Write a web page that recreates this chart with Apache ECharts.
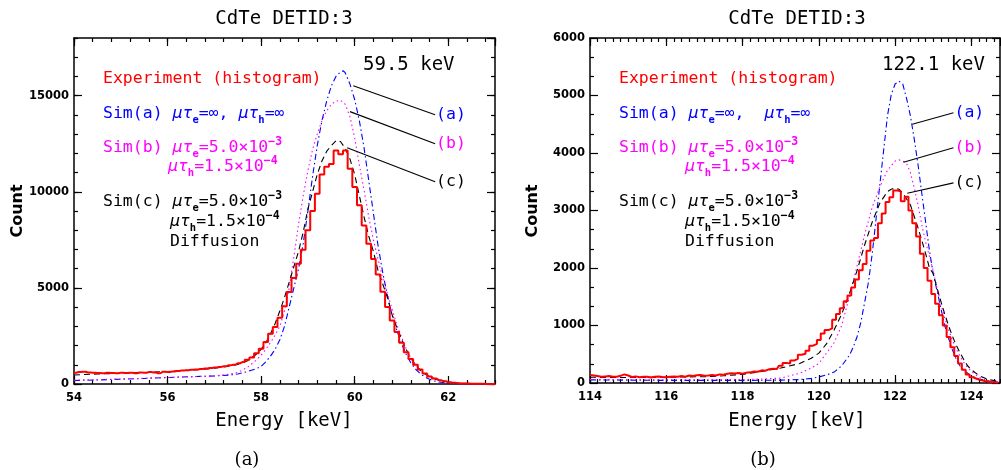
<!DOCTYPE html>
<html>
<head>
<meta charset="utf-8">
<script src="https://cdn.jsdelivr.net/npm/echarts@6/dist/echarts.min.js"></script>
<style>
  html, body { margin: 0; padding: 0; background: #ffffff; }
  #chart { width: 1001px; height: 470px; }
</style>
</head>
<body>
<div id="chart"></div>
<script>
// ---------------- data ----------------
// 59.5 keV line: measured histogram, 0.1 keV bins starting at 54.0 keV
const amStart = 54.0;
const amBin = 0.1;
const amCounts = [
  590, 620, 640, 600, 580, 570, 560, 580, 570, 560,
  580, 570, 590, 560, 600, 580, 620, 600, 560, 640,
  630, 650, 680, 700, 720, 740, 760, 780, 810, 830,
  860, 890, 920, 970, 1000, 1080, 1140, 1260, 1380, 1600,
  1830, 2180, 2610, 2960, 3450, 4040, 4780, 5510, 6260, 6990,
  8000, 9000, 9900, 10900, 11300, 11450, 12150, 11950, 12150, 11200,
  10250, 9300, 8250, 7300, 6500, 5700, 4800, 4000, 3300, 2700,
  2150, 1650, 1300, 1000, 750, 540, 390, 280, 200, 140,
  95, 65, 45, 30, 20, 14, 10, 7, 5, 4,
  3
];
// 59.5 keV simulations [energy, count]
const amSimA = [
  [54.0,180],[54.5,210],[55.0,250],[55.5,290],[56.0,340],[56.5,380],[57.0,420],[57.3,460],
  [57.5,520],[57.7,640],[57.9,800],[58.0,920],[58.1,1150],[58.2,1450],[58.3,1800],[58.4,2300],
  [58.5,3000],[58.6,4000],[58.7,5000],[58.8,6000],[58.9,7300],[59.0,9000],[59.1,10800],
  [59.2,12400],[59.3,13700],[59.4,14700],[59.5,15500],[59.6,16000],[59.7,16250],[59.76,16290],
  [59.8,16180],[59.9,15600],[60.0,14800],[60.1,13700],[60.2,12300],[60.3,10600],[60.4,8900],
  [60.5,7200],[60.6,5800],[60.7,4600],[60.8,3600],[60.9,2800],[61.0,2100],[61.1,1550],
  [61.2,1100],[61.3,780],[61.4,540],[61.5,370],[61.6,250],[61.7,160],[61.8,100],[62.0,45],
  [62.2,18],[62.5,5],[63.0,0]
];
const amSimB = [
  [54.0,200],[55.0,260],[56.0,330],[57.0,420],[57.3,500],[57.5,600],[57.7,850],[57.9,1250],
  [58.0,1500],[58.1,1800],[58.2,2150],[58.3,2550],[58.4,3000],[58.5,3800],[58.6,5000],
  [58.7,6600],[58.8,8300],[58.9,9800],[59.0,11100],[59.1,12200],[59.2,13000],[59.3,13700],
  [59.4,14200],[59.5,14550],[59.6,14720],[59.7,14760],[59.8,14550],[59.9,13900],[60.0,12800],
  [60.1,11400],[60.2,10100],[60.3,8700],[60.4,7500],[60.5,6500],[60.6,5500],[60.7,4700],
  [60.8,3900],[60.9,3100],[61.0,2450],[61.1,1850],[61.2,1350],[61.3,1000],[61.4,720],
  [61.5,500],[61.6,360],[61.7,250],[61.8,170],[62.0,70],[62.3,20],[62.6,5],[63.0,0]
];
const amSimC = [
  [54.0,470],[54.5,520],[55.0,560],[55.5,600],[56.0,650],[56.5,720],[57.0,820],[57.3,920],
  [57.5,1020],[57.7,1200],[57.9,1550],[58.0,1800],[58.1,2150],[58.2,2600],[58.3,3150],
  [58.4,3800],[58.5,4500],[58.6,5300],[58.7,6100],[58.8,6900],[58.9,7900],[59.0,9100],
  [59.1,10000],[59.2,10900],[59.3,11600],[59.4,12100],[59.5,12400],[59.6,12650],[59.65,12680],
  [59.7,12600],[59.8,12250],[59.9,11700],[60.0,10900],[60.1,9800],[60.2,8700],[60.3,7700],
  [60.4,6900],[60.5,5900],[60.6,5200],[60.7,4500],[60.8,3600],[60.9,2950],[61.0,2350],
  [61.1,1800],[61.2,1350],[61.3,1000],[61.4,730],[61.5,530],[61.6,390],[61.7,280],[61.8,200],
  [62.0,100],[62.3,30],[62.6,10],[63.0,0]
];

// 122.1 keV line: measured histogram, 0.1 keV bins starting at 114.0 keV
const coStart = 114.0;
const coBin = 0.1;
const coCounts = [
  140, 130, 120, 110, 115, 120, 110, 110, 125, 150,
  130, 105, 115, 100, 110, 110, 95, 110, 115, 105,
  100, 110, 115, 110, 120, 110, 130, 120, 135, 140,
  125, 130, 140, 130, 150, 145, 160, 170, 165, 175,
  160, 180, 185, 200, 195, 220, 215, 240, 250, 245,
  300, 350, 340, 390, 420, 490, 510, 560, 650, 680,
  750, 860, 920, 950, 1100, 1200, 1300, 1420, 1520, 1660,
  1800, 1960, 2070, 2300, 2480, 2520, 2780, 2950, 3150, 3230,
  3350, 3330, 3160, 3240, 3000, 2780, 2550, 2250, 2000, 1780,
  1550, 1380, 1180, 1000, 800, 620, 470, 340, 230, 150,
  100, 70, 50, 35, 25, 15, 10, 5
];
// 122.1 keV simulations [energy, count]
const coSimA = [
  [114.0,55],[115.0,50],[116.0,45],[117.0,45],[118.0,45],[119.0,50],[119.5,60],[119.8,80],
  [120.0,105],[120.2,140],[120.4,190],[120.6,300],[120.8,480],[120.9,620],[121.0,800],
  [121.1,1050],[121.2,1400],[121.3,1750],[121.4,2250],[121.5,2850],[121.6,3450],[121.7,4050],
  [121.8,4650],[121.9,5020],[122.0,5200],[122.1,5250],[122.2,5200],[122.3,4950],[122.4,4650],
  [122.5,4250],[122.6,3800],[122.7,3300],[122.8,2800],[122.9,2300],[123.0,1900],[123.1,1600],
  [123.2,1300],[123.3,1000],[123.4,780],[123.5,580],[123.6,420],[123.7,300],[123.8,220],
  [124.0,120],[124.2,70],[124.4,40],[124.75,20]
];
const coSimB = [
  [114.0,60],[116.0,55],[118.0,60],[118.5,70],[119.0,85],[119.5,170],[119.8,260],[120.0,340],
  [120.2,520],[120.4,700],[120.6,1000],[120.8,1500],[121.0,2030],[121.2,2580],[121.4,3060],
  [121.6,3410],[121.8,3700],[122.0,3860],[122.1,3880],[122.2,3860],[122.3,3820],[122.4,3660],
  [122.5,3400],[122.6,3100],[122.7,2750],[122.8,2450],[122.9,2200],[123.0,1950],[123.1,1650],
  [123.2,1380],[123.3,1130],[123.4,930],[123.5,750],[123.6,600],[123.7,470],[123.8,360],
  [123.9,270],[124.0,200],[124.2,100],[124.4,45],[124.75,15]
];
const coSimC = [
  [114.0,100],[115.0,95],[116.0,100],[117.0,110],[117.5,125],[118.0,150],[118.5,200],[119.0,260],
  [119.5,340],[119.8,430],[120.0,520],[120.2,680],[120.4,920],[120.6,1200],[120.8,1550],
  [121.0,1950],[121.2,2400],[121.4,2800],[121.6,3130],[121.8,3330],[121.9,3370],[122.0,3390],
  [122.1,3370],[122.2,3300],[122.3,3200],[122.4,3100],[122.5,2900],[122.6,2700],[122.7,2480],
  [122.8,2250],[122.9,2000],[123.0,1900],[123.1,1650],[123.2,1420],[123.3,1200],[123.4,1000],
  [123.5,820],[123.6,660],[123.7,530],[123.8,410],[123.9,300],[124.0,230],[124.2,130],
  [124.4,70],[124.75,20]
];

// axis ranges
const amRange = [54, 63];
const coRange = [114, 124.75];
const amCountMax = 18000;
const coCountMax = 6000;

// ---------------- helpers ----------------
function binned(start, width, counts) {
  return counts.map((c, i) => [+(start + i * width).toFixed(3), c]);
}

const MONO = 'DejaVu Sans Mono';
const RED = '#ff0000', BLUE = '#0000ff', MAG = '#ff00ff', BLK = '#000000';
const plainNumber = v => String(Math.round(v * 1000) / 1000);

function tickLabel(show, showMax) {
  return { show: show, showMaxLabel: showMax, showMinLabel: true, formatter: plainNumber,
    fontFamily: 'DejaVu Sans', fontWeight: 'bold', fontSize: 11.5, color: BLK };
}

function xAx(grid, range, interval, opts) {
  const major = opts.major;
  const lbl = tickLabel(major && opts.position === 'bottom', false);
  lbl.margin = 8;
  return {
    type: 'value', gridIndex: grid, min: range[0], max: range[1], interval: interval,
    position: opts.position, splitLine: { show: false },
    axisLine: { show: major, onZero: false, lineStyle: { color: BLK, width: 1.5 } },
    axisTick: { show: true, inside: true, length: major ? 8 : 4, lineStyle: { color: BLK, width: 1.2 } },
    axisLabel: lbl
  };
}
function yAx(grid, max, interval, opts) {
  const major = opts.major;
  const lbl = tickLabel(major && opts.position === 'left', !!opts.showMax);
  lbl.margin = 5;
  const o = {
    type: 'value', gridIndex: grid, min: 0, max: max, interval: interval,
    position: opts.position, splitLine: { show: false },
    axisLine: { show: major, onZero: false, lineStyle: { color: BLK, width: 1.5 } },
    axisTick: { show: true, inside: true, length: major ? 8 : 4, lineStyle: { color: BLK, width: 1.2 } },
    axisLabel: lbl
  };
  if (opts.minorSplit) {
    o.minorTick = { show: true, splitNumber: opts.minorSplit, length: 4, lineStyle: { color: BLK, width: 1.2 } };
  }
  return o;
}

const xAxes = [
  xAx(0, amRange, 2, { position: 'bottom', major: true }),   // 0
  xAx(0, amRange, 0.4, { position: 'bottom', major: false }),// 1
  xAx(0, amRange, 2, { position: 'top', major: true }),      // 2
  xAx(0, amRange, 0.4, { position: 'top', major: false }),   // 3
  xAx(1, coRange, 2, { position: 'bottom', major: true }),   // 4
  xAx(1, coRange, 0.2, { position: 'bottom', major: false }),// 5
  xAx(1, coRange, 2, { position: 'top', major: true }),      // 6
  xAx(1, coRange, 0.2, { position: 'top', major: false })    // 7
];
const yAxes = [
  yAx(0, amCountMax, 5000, { position: 'left', major: true }),   // 0
  yAx(0, amCountMax, 1000, { position: 'left', major: false }),  // 1
  yAx(0, amCountMax, 5000, { position: 'right', major: true }),  // 2
  yAx(0, amCountMax, 1000, { position: 'right', major: false }), // 3
  yAx(1, coCountMax, 1000, { position: 'left', major: true, minorSplit: 3, showMax: true }),  // 4
  yAx(1, coCountMax, 1000, { position: 'right', major: true, minorSplit: 3 })                 // 5
];

function histSeries(xi, yi, data) {
  return { type: 'line', xAxisIndex: xi, yAxisIndex: yi, data: data, step: 'middle',
    showSymbol: false, symbol: 'none', lineStyle: { color: RED, width: 2 }, z: 5, silent: true };
}
function simSeries(xi, yi, data, color, dash, z) {
  return { type: 'line', xAxisIndex: xi, yAxisIndex: yi, data: data, smooth: false,
    showSymbol: false, symbol: 'none', lineStyle: { color: color, width: 1.1, type: dash }, z: z, silent: true };
}

const DASHDOT = [6, 3, 1.5, 3];
const DOTTED = [1.5, 3];
const DASHED = [6, 4];

const series = [
  simSeries(0, 0, amSimA, BLUE, DASHDOT, 3),
  simSeries(0, 0, amSimB, MAG, DOTTED, 3),
  simSeries(0, 0, amSimC, BLK, DASHED, 4),
  histSeries(0, 0, binned(amStart, amBin, amCounts)),
  simSeries(4, 4, coSimA, BLUE, DASHDOT, 3),
  simSeries(4, 4, coSimB, MAG, DOTTED, 3),
  simSeries(4, 4, coSimC, BLK, DASHED, 4),
  histSeries(4, 4, binned(coStart, coBin, coCounts))
];

// ---------------- text blocks ----------------
const TXT = 16.5;
const richStyles = {
  g:  { fontFamily: MONO, fontSize: TXT, fontStyle: 'italic', lineHeight: 24 },
  sb: { fontFamily: MONO, fontSize: 10.5, fontWeight: 'bold', lineHeight: 13, verticalAlign: 'bottom' },
  sp: { fontFamily: MONO, fontSize: 11.5, fontWeight: 'bold', lineHeight: 13, verticalAlign: 'top' }
};
function richText(x, y, text, color) {
  return {
    type: 'text', x: x, y: y, silent: true,
    style: { text: text, fill: color, fontFamily: MONO, fontSize: TXT, lineHeight: 24,
      align: 'left', verticalAlign: 'middle', rich: richStyles }
  };
}
function plainText(x, y, text, opts) {
  return {
    type: 'text', x: x, y: y, rotation: opts.rotation || 0, silent: true,
    style: { text: text, fill: opts.color || BLK, fontFamily: opts.family || MONO,
      fontSize: opts.size, fontWeight: opts.weight || 'normal',
      align: opts.align || 'center', verticalAlign: 'middle' }
  };
}

function panelTexts(o) {
  const g = [];
  g.push(plainText(o.cx, 19, 'CdTe DETID:3', { size: 19 }));
  g.push(plainText(o.cx, 421, 'Energy [keV]', { size: 19 }));
  g.push(plainText(o.countX, 211, 'Count', { size: 16, family: 'DejaVu Sans', weight: 'bold', rotation: Math.PI / 2 }));
  g.push(plainText(o.capX, 460, o.caption, { size: 18, family: 'DejaVu Serif' }));
  g.push(plainText(o.lineX, 65, o.lineLabel, { size: 19, align: 'left' }));
  g.push(richText(o.lx, 79, 'Experiment (histogram)', RED));
  g.push(richText(o.lx, 114, 'Sim(a) {g|μτ}{sb|e}=∞,' + o.gap + '{g|μτ}{sb|h}=∞', BLUE));
  g.push(richText(o.lx, 148, 'Sim(b) {g|μτ}{sb|e}=5.0×10{sp|−3}', MAG));
  g.push(richText(o.l2b, 167, '{g|μτ}{sb|h}=1.5×10{sp|−4}', MAG));
  g.push(richText(o.lx, 202, 'Sim(c) {g|μτ}{sb|e}=5.0×10{sp|−3}', BLK));
  g.push(richText(o.l2c, 222, '{g|μτ}{sb|h}=1.5×10{sp|−4}', BLK));
  g.push(richText(o.l2c, 242, 'Diffusion', BLK));
  return g;
}

const staticGraphics = [].concat(
  panelTexts({ cx: 284, countX: 18, capX: 247, caption: '(a)', lineX: 363, lineLabel: '59.5 keV',
    lx: 103, gap: ' ', l2b: 168, l2c: 170 }),
  panelTexts({ cx: 797, countX: 533, capX: 763, caption: '(b)', lineX: 882, lineLabel: '122.1 keV',
    lx: 619, gap: '  ', l2b: 685, l2c: 685 })
);

// leader lines from each simulated peak to its tag, in data units
const leaders = [
  { grid: 0, from: [59.97, 15520], to: [61.72, 14010], tag: '(a)', color: BLUE },
  { grid: 0, from: [59.90, 14170], to: [61.72, 12500], tag: '(b)', color: MAG },
  { grid: 0, from: [59.84, 12290], to: [61.72, 10520], tag: '(c)', color: BLK },
  { grid: 1, from: [122.45, 4500], to: [123.53, 4700], tag: '(a)', color: BLUE },
  { grid: 1, from: [122.22, 3840], to: [123.53, 4090], tag: '(b)', color: MAG },
  { grid: 1, from: [122.32, 3300], to: [123.53, 3480], tag: '(c)', color: BLK }
];

const chart = echarts.init(document.getElementById('chart'), null, { renderer: 'canvas' });
chart.setOption({
  animation: false,
  backgroundColor: '#ffffff',
  grid: [
    { left: 74, top: 38, width: 421, height: 346 },
    { left: 590, top: 38, width: 410, height: 345 }
  ],
  xAxis: xAxes,
  yAxis: yAxes,
  series: series,
  graphic: staticGraphics
});

const leaderGraphics = [];
leaders.forEach(function (l) {
  const axes = l.grid === 0 ? { xAxisIndex: 0, yAxisIndex: 0 } : { xAxisIndex: 4, yAxisIndex: 4 };
  const p1 = chart.convertToPixel(axes, l.from);
  const p2 = chart.convertToPixel(axes, l.to);
  leaderGraphics.push({
    type: 'line', silent: true, z: 10,
    shape: { x1: p1[0], y1: p1[1], x2: p2[0], y2: p2[1] },
    style: { stroke: BLK, lineWidth: 1.1 }
  });
  leaderGraphics.push({
    type: 'text', silent: true, z: 10, x: p2[0] + 1, y: p2[1],
    style: { text: l.tag, fill: l.color, fontFamily: MONO, fontSize: TXT, align: 'left', verticalAlign: 'middle' }
  });
});
chart.setOption({ graphic: staticGraphics.concat(leaderGraphics) });
</script>
</body>
</html>
